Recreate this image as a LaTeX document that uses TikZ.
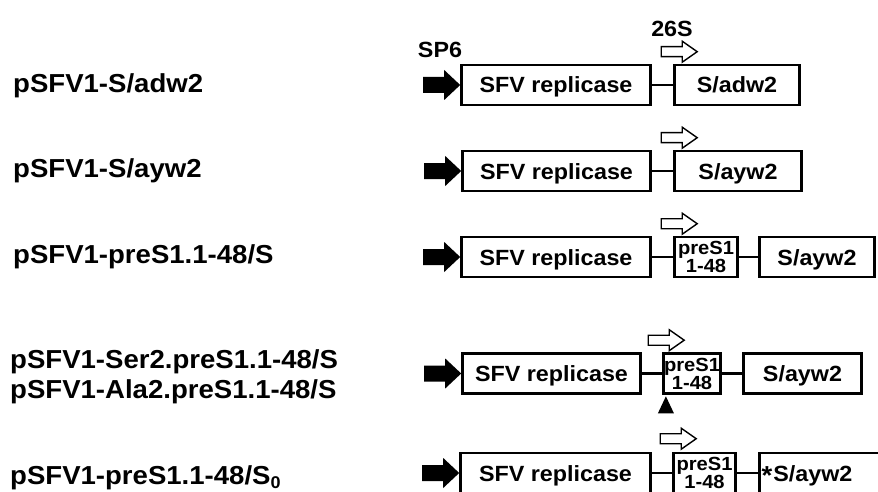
\documentclass[tikz,border=0pt]{standalone}
\usepackage{fontspec}
\setmainfont[FakeStretch=1.06]{Liberation Sans}
\usetikzlibrary{calc}
\begin{document}
\begin{tikzpicture}[x=1pt,y=-1pt,
  lab/.style={anchor=base west, inner sep=0pt, font=\fontsize{26}{30}\selectfont\bfseries},
  box/.style={draw, line width=2.6pt, inner sep=0pt, minimum height=40, text height=16, text depth=0, font=\fontsize{22}{22}\selectfont\bfseries},
  pbox/.style={draw, line width=2.6pt, inner sep=0pt, minimum height=40, align=center, font=\fontsize{19}{18}\selectfont\bfseries},
  conn/.style={line width=2.6pt},
  toplab/.style={inner sep=0pt, text height=16, text depth=0, font=\fontsize{22}{22}\selectfont\bfseries},
  barrow/.pic={\fill (0,0) -- (-16,-15) -- (-16,-8) -- (-37,-8) -- (-37,8) -- (-16,8) -- (-16,15) -- cycle;},
  harrow/.pic={\draw[line width=1.4pt, fill=white] (0,-5) -- (21,-5) -- (21,-10.5) -- (36,0) -- (21,10.5) -- (21,5) -- (0,5) -- cycle;}
]
\clip (0,0) rectangle (878,492);
\fill[white] (0,0) rectangle (878,492);

% left labels
\node[lab] (l1) at (13,93) {pSFV1-S/adw2};
\node[lab] (l2) at (13,177) {pSFV1-S/ayw2};
\node[lab] (l3) at (13,263) {pSFV1-preS1.1-48/S};
\node[lab] (l4a) at (10,368) {pSFV1-Ser2.preS1.1-48/S};
\node[lab] (l4b) at (10,398) {pSFV1-Ala2.preS1.1-48/S};
\node[lab] (l5) at (10,484) {pSFV1-preS1.1-48/S\raisebox{-4pt}{\fontsize{17}{17}\selectfont 0}};

% top labels
\node[toplab] (sp6) at (440,50) {SP6};
\node[toplab] (t26) at (672,29) {26S};

% row 1
\node[box, minimum width=189] (a1) at (556,85) {SFV replicase};
\node[box, minimum width=125] (b1) at (737,85) {S/adw2};
\draw[conn] (a1) -- (b1);
\pic at (a1.west) {barrow};
\pic at ($(b1.north west)+(-12,-12)$) {harrow};

% row 2
\node[box, minimum width=188] (a2) at (556.5,171) {SFV replicase};
\node[box, minimum width=127] (b2) at (738,171) {S/ayw2};
\draw[conn] (a2) -- (b2);
\pic at (a2.west) {barrow};
\pic at ($(b2.north west)+(-12,-12)$) {harrow};

% row 3
\node[box, minimum width=189] (a3) at (556,257) {SFV replicase};
\node[pbox, minimum width=63] (p3) at (706,257) {preS1\\1-48};
\node[box, minimum width=115] (c3) at (817,257) {S/ayw2};
\draw[conn] (a3) -- (p3);
\draw[conn] (p3) -- (c3);
\pic at (a3.west) {barrow};
\pic at ($(p3.north west)+(-12,-12)$) {harrow};

% row 4
\node[box, minimum width=178] (a4) at (551.5,373.5) {SFV replicase};
\node[pbox, minimum width=57] (p4) at (692,373.5) {preS1\\1-48};
\node[box, minimum width=118] (c4) at (802.5,373.5) {S/ayw2};
\draw[conn] (a4) -- (p4);
\draw[conn] (p4) -- (c4);
\pic at (a4.west) {barrow};
\pic at ($(p4.north west)+(-14,-12)$) {harrow};
\fill ($(p4.south west)+(3.7,1.5)$) -- ++(-8,17) -- ++(16,0) -- cycle;

% row 5
\node[box, minimum width=190] (a5) at (555.5,473) {SFV replicase};
\node[pbox, minimum width=62] (p5) at (704.5,473) {preS1\\1-48};
\node[box, minimum width=140, anchor=west] (c5) at (758.3,473) {\makebox[136pt][l]{\raisebox{-3pt}{\fontsize{26}{26}\selectfont *}\kern1pt S/ayw2}};
\draw[conn] (a5) -- (p5);
\draw[conn] (p5) -- (c5);
\pic at (a5.west) {barrow};
\pic at ($(p5.north west)+(-12,-13)$) {harrow};
\end{tikzpicture}
\end{document}
